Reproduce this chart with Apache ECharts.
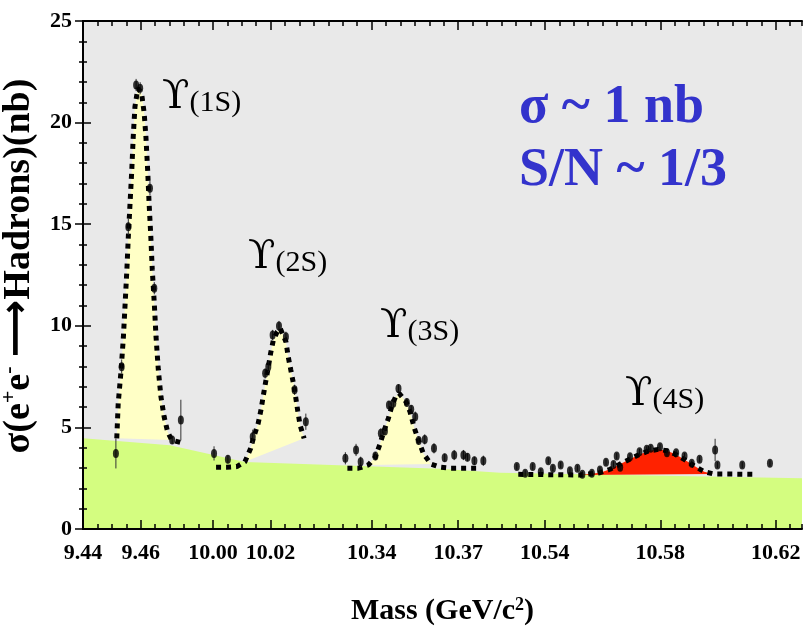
<!DOCTYPE html>
<html><head><meta charset="utf-8">
<script src="https://cdn.jsdelivr.net/npm/echarts@6/dist/echarts.min.js"></script>
<style>html,body{margin:0;padding:0;background:#fff}#c{width:803px;height:633px}</style>
</head><body><div id="c"></div>
<script>
// ---- broken mass axis: visible segments (GeV/c^2) ----
const segments = [[9.44, 9.485], [10.00, 10.045], [10.33, 10.38], [10.52, 10.6291]];
const tickMasses = [9.44, 9.46, 10.00, 10.02, 10.34, 10.37, 10.54, 10.58, 10.62];
const tickLabels = ['9.44', '9.46', '10.00', '10.02', '10.34', '10.37', '10.54', '10.58', '10.62'];

// ---- measured points [mass, sigma(nb), error] ----
const points1S = [[9.4514,3.72,0.74],[9.4534,7.99,0.35],[9.4557,14.88,0.4],[9.4584,21.85,0.3],[9.4598,21.69,0.3],
  [9.4632,16.77,0.35],[9.4647,11.85,0.3],[9.4709,4.38,0.2],[9.4739,5.36,1.0]];
const points2S = [[10.0004,3.72,0.35],[10.0052,3.43,0.2],[10.0138,4.54,0.35],[10.0181,7.66,0.25],[10.0192,7.99,0.25],
  [10.0207,9.55,0.25],[10.0229,9.99,0.25],[10.0253,9.46,0.25],[10.0283,6.85,0.25],[10.0322,5.28,0.4]];
const points3S = [[10.3309,3.48,0.3],[10.3346,3.89,0.3],[10.3362,3.31,0.25],[10.3413,3.59,0.2],[10.3432,4.71,0.25],
  [10.3446,4.82,0.2],[10.3460,6.10,0.2],[10.3475,6.19,0.2],[10.3493,6.92,0.2],[10.3522,6.23,0.2],[10.3537,5.89,0.2],
  [10.3551,5.53,0.25],[10.3563,4.35,0.2],[10.3584,4.41,0.25],[10.3616,3.97,0.25],[10.3653,3.51,0.2],[10.3686,3.64,0.25],
  [10.3718,3.64,0.25],[10.3732,3.53,0.2],[10.3756,3.36,0.2],[10.3787,3.36,0.25]];
const points4S = [[10.5303,3.07,0.15],[10.5332,2.74,0.15],[10.5358,3.07,0.15],[10.5386,2.82,0.15],[10.5412,3.36,0.15],
  [10.5428,2.99,0.15],[10.5455,3.15,0.15],[10.5487,2.87,0.15],[10.5513,2.99,0.15],[10.5530,2.69,0.15],[10.5563,2.74,0.15],
  [10.5591,2.90,0.15],[10.5612,3.28,0.15],[10.5638,3.18,0.15],[10.5649,3.59,0.15],[10.5661,3.04,0.15],[10.5695,3.56,0.15],
  [10.5728,3.80,0.15],[10.5753,3.92,0.15],[10.5767,3.97,0.15],[10.5799,4.05,0.15],[10.5823,3.75,0.15],[10.5855,3.75,0.15],
  [10.5884,3.59,0.15],[10.5909,3.23,0.15],[10.5936,3.43,0.15],[10.5990,3.89,0.55],[10.5998,3.15,0.15],[10.6084,3.15,0.15],
  [10.6180,3.23,0.15]];

// ---- fitted line shapes [mass, sigma] ----
const curve1S = [[9.4517,4.46],[9.4522,6.19],[9.4532,7.82],[9.4540,9.46],[9.4546,11.1],[9.4552,12.75],[9.4557,14.38],
  [9.4563,16.03],[9.4569,17.67],[9.4574,19.3],[9.4580,20.78],[9.4590,21.69],[9.4603,21.44],[9.4612,20.46],[9.4618,19.3],
  [9.4624,17.67],[9.4629,16.03],[9.4635,14.38],[9.4640,12.75],[9.4647,11.1],[9.4653,9.46],[9.4661,7.82],[9.4670,6.51],
  [9.4681,5.53],[9.4693,4.79],[9.4707,4.38],[9.4740,4.25]];
const curve2S = [[10.0011,3.04],[10.0048,3.04],[10.0083,3.07],[10.0111,3.31],[10.0131,3.97],[10.0140,4.46],[10.0157,5.2],
  [10.0167,5.89],[10.0175,6.59],[10.0183,7.25],[10.0192,7.96],[10.0200,8.65],[10.0209,9.27],[10.0223,9.71],[10.0233,9.88],
  [10.0253,9.22],[10.0261,8.48],[10.0270,7.82],[10.0279,7.17],[10.0287,6.48],[10.0294,5.81],[10.0302,5.12],[10.0316,4.46]];
const curve3S = [[10.3316,2.99],[10.3354,2.99],[10.3389,3.15],[10.3412,3.53],[10.3429,4.18],[10.3441,4.74],[10.3458,5.45],
  [10.3470,6.05],[10.3483,6.51],[10.3495,6.68],[10.3519,6.26],[10.3533,5.77],[10.3548,4.96],[10.3562,4.38],[10.3579,3.72],
  [10.3605,3.2],[10.3637,3.04],[10.3672,2.99],[10.3706,2.99],[10.3741,2.99],[10.3778,2.99]];
const curve4S = [[10.5308,2.69],[10.5522,2.66],[10.5591,2.77],[10.5626,2.94],[10.5655,3.15],[10.5689,3.4],[10.5724,3.64],
  [10.5759,3.84],[10.5793,3.92],[10.5823,3.85],[10.5851,3.69],[10.5886,3.4],[10.5921,3.07],[10.5952,2.82],[10.5984,2.71],
  [10.6134,2.69]];

// ---- continuum (green) [mass, sigma] ----
const continuum = [[9.44,4.46],[9.4701,4.12],[10.0111,3.3],[10.3637,2.97],[10.5245,2.77],[10.6291,2.5]];

// ---- shaded resonance ranges (mass) ----
const fill1S = [9.4517, 9.4707];
const fill2S = [10.0111, 10.0316];
const fill3S = [10.3389, 10.3605];
const fill4S = [10.5522, 10.5984];

// ---- resonance labels [state, mass, sigma] (lower-left anchor) ----
const stateLabels = [['(1S)', 9.4674, 20.23], ['(2S)', 10.0122, 12.35], ['(3S)', 10.3429, 8.96], ['(4S)', 10.5678, 5.61]];
const noteLines = ['σ ~ 1 nb', 'S/N ~ 1/3'];

const SERIF = "'Liberation Serif','Times New Roman',serif";

function toU(m) {
  let off = 0;
  for (const [a, b] of segments) {
    if (m >= a - 1e-9 && m <= b + 1e-9) return off + (m - a);
    off += b - a;
  }
  return off;
}
const uMax = segments.reduce((s, [a, b]) => s + (b - a), 0);
const tickU = tickMasses.map(toU);
function labelFor(v) {
  let best = 0;
  tickU.forEach((u, i) => { if (Math.abs(u - v) < Math.abs(tickU[best] - v)) best = i; });
  return tickLabels[best];
}
const mapXY = arr => arr.map(p => [toU(p[0]), p[1]]);

function polySeries(curve, range, color) {
  const pts = mapXY(curve.filter(p => p[0] >= range[0] - 1e-9 && p[0] <= range[1] + 1e-9));
  return {
    type: 'custom', z: 3, silent: true, data: pts, encode: {x: 0, y: 1},
    renderItem: (params, api) => {
      if (params.dataIndex !== 0) return;
      return {type: 'polygon', shape: {points: pts.map(p => api.coord(p))}, style: {fill: color}};
    }
  };
}
function curveSeries(curve) {
  return {type: 'line', z: 4, silent: true, data: mapXY(curve), showSymbol: false, symbol: 'none',
    lineStyle: {color: '#000', width: 5, type: [5, 5], cap: 'butt'}};
}
const allPoints = points1S.concat(points2S, points3S, points4S);

function xAx(pos, major, labels) {
  return {
    type: 'value', position: pos, min: 0, max: uMax, z: 10,
    interval: major ? undefined : 0.005,
    axisLine: {show: major, lineStyle: {color: '#000', width: 2}},
    splitLine: {show: false},
    axisTick: major ? {show: true, inside: true, length: 9, customValues: tickU, lineStyle: {color: '#000', width: 1.5}}
                    : {show: true, inside: true, length: 5, lineStyle: {color: '#000', width: 1.5}},
    axisLabel: labels ? {show: true, customValues: tickU, formatter: labelFor, margin: 13,
      fontFamily: SERIF, fontWeight: 'bold', fontSize: 22, color: '#000'} : {show: false}
  };
}
function yAx(pos, labels) {
  return {
    type: 'value', position: pos, min: 0, max: 25, interval: 5, z: 10,
    axisLine: {show: true, lineStyle: {color: '#000', width: 2}},
    splitLine: {show: false},
    axisTick: {show: true, inside: true, length: 8, lineStyle: {color: '#000', width: 1.5}},
    minorTick: {show: true, splitNumber: 5, length: 4, lineStyle: {color: '#000', width: 1.5}},
    axisLabel: labels ? {show: true, margin: 11, fontFamily: SERIF, fontWeight: 'bold', fontSize: 22, color: '#000'} : {show: false}
  };
}

const xMain = xAx('bottom', true, true);
xMain.name = '{t|Mass (GeV/c}{sp|2}{t|)}';
xMain.nameLocation = 'middle';
xMain.nameGap = 67;
xMain.nameTextStyle = {fontFamily: SERIF, fontWeight: 'bold', fontSize: 30, color: '#000',
  rich: {t: {fontFamily: SERIF, fontWeight: 'bold', fontSize: 30, color: '#000', verticalAlign: 'bottom'},
         sp: {fontFamily: SERIF, fontWeight: 'bold', fontSize: 18, color: '#000', verticalAlign: 'top'}}};

const yMain = yAx('left', true);
yMain.name = '{t|σ(e}{sp|+}{t|e}{sp|-}{t| }{ar|⟶}{t|Hadrons)(nb)}';
yMain.nameLocation = 'middle';
yMain.nameRotate = 90;
yMain.nameGap = 45;
yMain.nameTextStyle = {fontFamily: SERIF, fontWeight: 'bold', fontSize: 38, color: '#000', padding: [0, 0, 0, 18],
  rich: {t: {fontFamily: SERIF, fontWeight: 'bold', fontSize: 38, color: '#000', verticalAlign: 'bottom'},
         sp: {fontFamily: SERIF, fontWeight: 'bold', fontSize: 22, color: '#000', verticalAlign: 'top'},
         ar: {fontFamily: "'DejaVu Sans'", fontSize: 40, color: '#000', verticalAlign: 'bottom'}}};

const option = {
  animation: false,
  backgroundColor: '#ffffff',
  grid: {left: 83, right: 1, top: 21, bottom: 104, show: true, backgroundColor: '#e9e9e9', borderWidth: 0,
    containLabel: false, outerBoundsMode: 'none'},
  xAxis: [xMain, xAx('bottom', false, false), xAx('top', true, false), xAx('top', false, false)],
  yAxis: [yMain, yAx('right', false)],
  graphic: [{
    type: 'text', left: 519, top: 77, z: 20,
    style: {text: noteLines.join('\n'), font: "bold 54px 'Liberation Serif', serif", fill: '#3333cc', lineHeight: 63}
  }],
  series: [
    {type: 'line', z: 1, silent: true, data: mapXY(continuum), symbol: 'none', showSymbol: false,
      lineStyle: {width: 0}, areaStyle: {color: '#d4fd80', opacity: 1}},
    polySeries(curve1S, fill1S, '#ffffc6'),
    polySeries(curve2S, fill2S, '#ffffc6'),
    polySeries(curve3S, fill3S, '#ffffc6'),
    polySeries(curve4S, fill4S, '#ff2200'),
    curveSeries(curve1S), curveSeries(curve2S), curveSeries(curve3S), curveSeries(curve4S),
    {type: 'custom', z: 5, silent: true, data: allPoints.map(p => [toU(p[0]), p[1], p[2]]), encode: {x: 0, y: 1},
      renderItem: (params, api) => {
        const x = api.value(0), y = api.value(1), e = api.value(2);
        const a = api.coord([x, y - e]), b = api.coord([x, y + e]);
        return {type: 'line', shape: {x1: a[0], y1: a[1], x2: b[0], y2: b[1]}, style: {stroke: '#333', lineWidth: 1}};
      }},
    {type: 'scatter', z: 6, silent: true, data: mapXY(allPoints), symbol: 'circle', symbolSize: [6, 9],
      itemStyle: {color: '#000'}},
    {type: 'custom', z: 7, silent: true, data: stateLabels.map(l => [toU(l[1]), l[2]]), encode: {x: 0, y: 1},
      renderItem: (params, api) => {
        const p = api.coord([api.value(0), api.value(1)]);
        return {type: 'text', x: p[0], y: p[1], style: {
          text: '{u|ϒ}{s|' + stateLabels[params.dataIndex][0] + '}',
          align: 'left', verticalAlign: 'bottom',
          rich: {u: {fontFamily: "'DejaVu Serif'", fontSize: 40, fill: '#000', verticalAlign: 'bottom'},
                 s: {fontFamily: SERIF, fontSize: 30, fill: '#000', verticalAlign: 'bottom'}}
        }};
      }}
  ]
};
const chart = echarts.init(document.getElementById('c'));
chart.setOption(option);
</script></body></html>
